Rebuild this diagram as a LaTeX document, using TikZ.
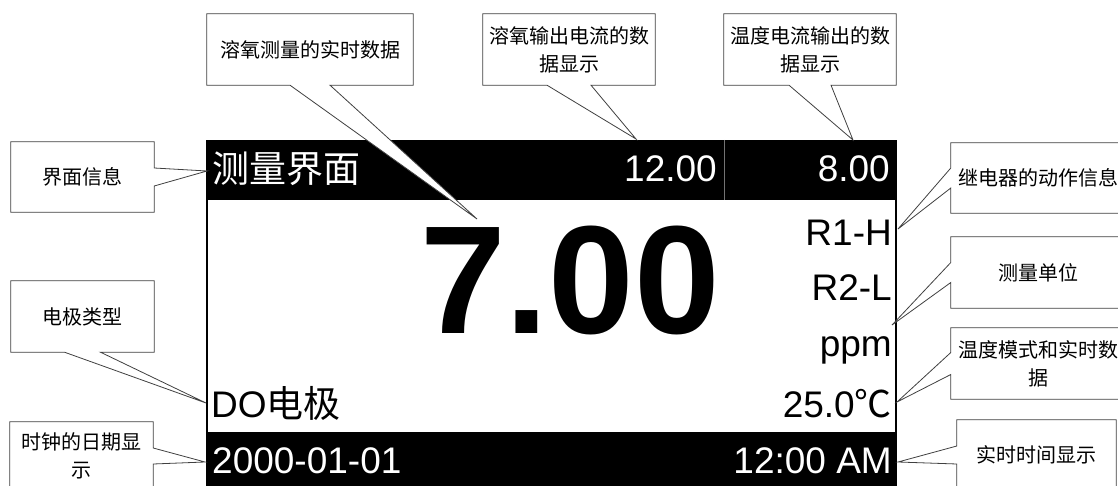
\documentclass[tikz,border=0pt]{standalone}
\usepackage{fontspec}
\setmainfont{Liberation Sans}
\newfontfamily\cjk{Noto Sans CJK SC}
\pgfdeclarelayer{screen}
\pgfdeclarelayer{bubble}
\pgfsetlayers{screen,bubble,main}
\tikzset{
  note/.style={inner sep=0pt, align=center, font=\cjk\fontsize{20}{28}\selectfont},
  bubble/.style={draw=black!75, fill=white, line width=0.8pt},
  lcd/.style={inner sep=0pt, font=\fontsize{37}{40}\selectfont},
  lcdinv/.style={lcd, text=white},
  bigvalue/.style={inner sep=0pt, font=\bfseries\fontsize{154}{160}\selectfont}
}

\begin{document}
\begin{tikzpicture}[x=1pt, y=-1pt]
    \useasboundingbox (0,0) rectangle (1118,486);

    % the meter screen
    \begin{pgfonlayer}{screen}
    \clip (0,0) rectangle (1118,486);
    \draw[line width=2.5pt] (207,141) rectangle (896,500);
    \fill (206,140) rectangle (897,200);
    \fill (206,432) rectangle (897,500);
    \draw[black!55, line width=0.8pt] (724,140) -- (724,200);
    \end{pgfonlayer}

    % screen texts
    \node[lcdinv, anchor=base west] (title) at (212,183) {\cjk 测量界面};
    \node[lcdinv, anchor=base east] (cur-o2) at (717,182) {12.00};
    \node[lcdinv, anchor=base east] (cur-temp) at (890,182) {8.00};
    \node[bigvalue, anchor=base east] (value) at (720,333) {7.00};
    \node[lcd, anchor=base east] (relay1) at (892,245) {R1-H};
    \node[lcd, anchor=base east] (relay2) at (892,300) {R2-L};
    \node[lcd, anchor=base east] (unit) at (892,356) {ppm};
    \node[lcd, anchor=base east] (temp) at (892,417) {25.0{\cjk ℃}};
    \node[lcd, anchor=base west] (elec) at (211,417) {DO{\cjk 电极}};
    \node[lcdinv, anchor=base west] (date) at (212,473) {2000-01-01};
    \node[lcdinv, anchor=base east] (clock) at (892,473) {12:00 AM};

    % callout boxes
    \node[note, minimum width=143pt, minimum height=70pt] (b-title) at (82.5,177) {界面信息};
    \node[note, minimum width=206pt, minimum height=71pt] (b-value) at (310,49.5) {溶氧测量的实时数据};
    \node[note, minimum width=172pt, minimum height=71pt] (b-cur1) at (569,49.5) {溶氧输出电流的数\\据显示};
    \node[note, minimum width=172pt, minimum height=71pt] (b-cur2) at (810,49.5) {温度电流输出的数\\据显示};
    \node[note, minimum width=174pt, minimum height=70pt] (b-relay) at (1038,178) {继电器的动作信息};
    \node[note, minimum width=174pt, minimum height=71pt] (b-unit) at (1038,272.5) {测量单位};
    \node[note, minimum width=174pt, minimum height=71pt] (b-temp) at (1038,363.5) {温度模式和实时数\\据};
    \node[note, minimum width=159pt, minimum height=70pt] (b-time) at (1036.5,455) {实时时间显示};
    \node[note, minimum width=143pt, minimum height=71pt] (b-elec) at (82.5,316.5) {电极类型};
    \node[note, minimum width=143pt, minimum height=68pt] (b-date) at (81.5,456) {时钟的日期显\\示};

    % pointer tips
    \coordinate (t-title) at (207,171);
    \coordinate (t-value) at (477,219);
    \coordinate (t-cur1) at (636,139);
    \coordinate (t-cur2) at (853,140);
    \coordinate (t-relay) at (898,229);
    \coordinate (t-unit) at (892,325);
    \coordinate (t-temp) at (897,402);
    \coordinate (t-time) at (898,462);
    \coordinate (t-elec) at (206,403);
    \coordinate (t-date) at (205,462);

    \begin{pgfonlayer}{bubble}
    \clip (0,0) rectangle (1118,486);
    \foreach \nm/\off in {value/20pt, cur1/22pt, cur2/21pt, elec/18pt}
      \draw[bubble] (b-\nm.north west) -- (b-\nm.north east) -- (b-\nm.south east)
        -- ([xshift=\off]b-\nm.south) -- (t-\nm) -- ([xshift=-\off]b-\nm.south)
        -- (b-\nm.south west) -- cycle;
    \foreach \nm/\off in {title/9pt, date/8pt}
      \draw[bubble] (b-\nm.north west) -- (b-\nm.north east) -- ([yshift=\off]b-\nm.east)
        -- (t-\nm) -- ([yshift=-\off]b-\nm.east) -- (b-\nm.south east)
        -- (b-\nm.south west) -- cycle;
    \foreach \nm/\off in {relay/10pt, unit/10pt, temp/11pt, time/9pt}
      \draw[bubble] (b-\nm.north west) -- (b-\nm.north east) -- (b-\nm.south east)
        -- (b-\nm.south west) -- ([yshift=-\off]b-\nm.west) -- (t-\nm)
        -- ([yshift=\off]b-\nm.west) -- cycle;
    \end{pgfonlayer}
\end{tikzpicture}
\end{document}
